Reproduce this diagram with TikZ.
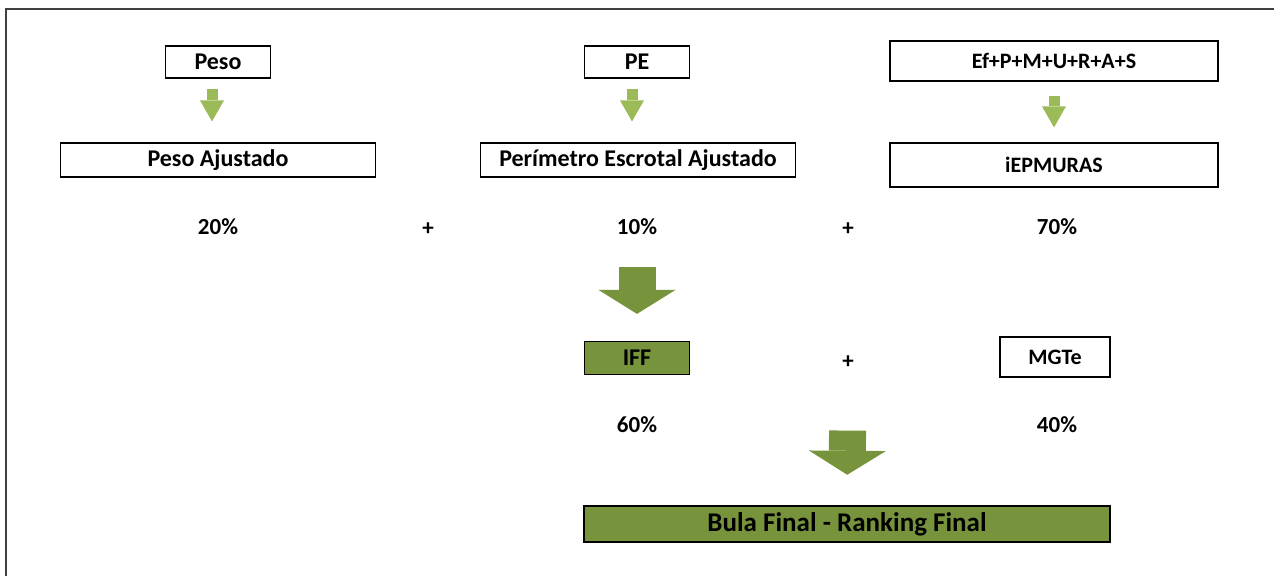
\documentclass[tikz,border=0pt]{standalone}
\usepackage{fontspec}
\setmainfont{Carlito}
\usetikzlibrary{arrows.meta}
\definecolor{olive}{HTML}{77933C}
\definecolor{lightgreen}{HTML}{9BBB59}
\definecolor{frame}{HTML}{404040}

\begin{document}
\begin{tikzpicture}[x=1pt,y=-1pt,
  box/.style={draw=black,line width=1.2pt,minimum height=32pt,inner sep=0pt,
    font=\bfseries\fontsize{24}{28}\selectfont},
  greenbox/.style={box,fill=olive},
  pct/.style={font=\bfseries\fontsize{23}{27}\selectfont,inner sep=0pt},
  smallarrow/.style={draw=lightgreen,line width=11pt,
    -{Triangle[width=24pt,length=21pt,line width=0pt]}},
  bigarrow/.style={draw=olive,line width=37pt,
    -{Triangle[width=77pt,length=24pt,line width=0pt]}}]
\useasboundingbox (0,0) rectangle (1274,576);
%frame
\draw[line width=2.5pt,frame] (6,576) -- (6,9) -- (1274,9);

%top boxes
\node[box,minimum width=105pt] (peso) at (218,62) {Peso};
\node[box,minimum width=105pt] (pe) at (637,62) {PE};
\node[box,minimum width=328pt,minimum height=40pt] (traits) at (1054,61) {\fontsize{22}{26}\selectfont Ef+P+M+U+R+A+S};

%adjusted boxes
\node[box,minimum width=315pt,minimum height=34pt] (pesoaj) at (218,160) {Peso Ajustado};
\node[box,minimum width=315pt,minimum height=34pt] (peaj) at (638,160) {Perímetro Escrotal Ajustado};
\node[box,minimum width=328pt,minimum height=44pt] (iep) at (1054,165) {\fontsize{22}{26}\selectfont iEPMURAS};

%weights
\node[pct] (p20) at (218,227) {20\%};
\node[pct] (plus1) at (428,229) {+};
\node[pct] (p10) at (637,227) {10\%};
\node[pct] (plus2) at (848,229) {+};
\node[pct] (p70) at (1057,227) {70\%};

%second level
\node[greenbox,minimum width=105pt,minimum height=33pt] (iff) at (637,358) {IFF};
\node[pct] (plus3) at (848,362) {+};
\node[box,minimum width=110pt,minimum height=40pt] (mgte) at (1055,357) {\fontsize{22}{26}\selectfont MGTe};
\node[pct] (p60) at (637,425) {60\%};
\node[pct] (p40) at (1057,425) {40\%};

%final
\node[greenbox,line width=2.5pt,minimum width=526pt,minimum height=36pt,
  font=\bfseries\fontsize{27}{31}\selectfont] (bula) at (847,524) {Bula Final - Ranking Final};

%arrows
\draw[smallarrow,shorten <=10pt,shorten >=21pt] ([xshift=-6pt]peso.south) -- ([xshift=-6pt]pesoaj.north);
\draw[smallarrow,shorten <=10pt,shorten >=21pt] ([xshift=-5pt]pe.south) -- ([xshift=-6pt]peaj.north);
\draw[smallarrow,shorten <=14pt,shorten >=15pt] (traits.south) -- (iep.north);
\draw[bigarrow,shorten <=32pt,shorten >=27pt] (p10.south) -- (iff.north);
\draw[bigarrow,shorten <=62pt,shorten >=30pt] (plus3.south) -- (bula.north);
\end{tikzpicture}
\end{document}
